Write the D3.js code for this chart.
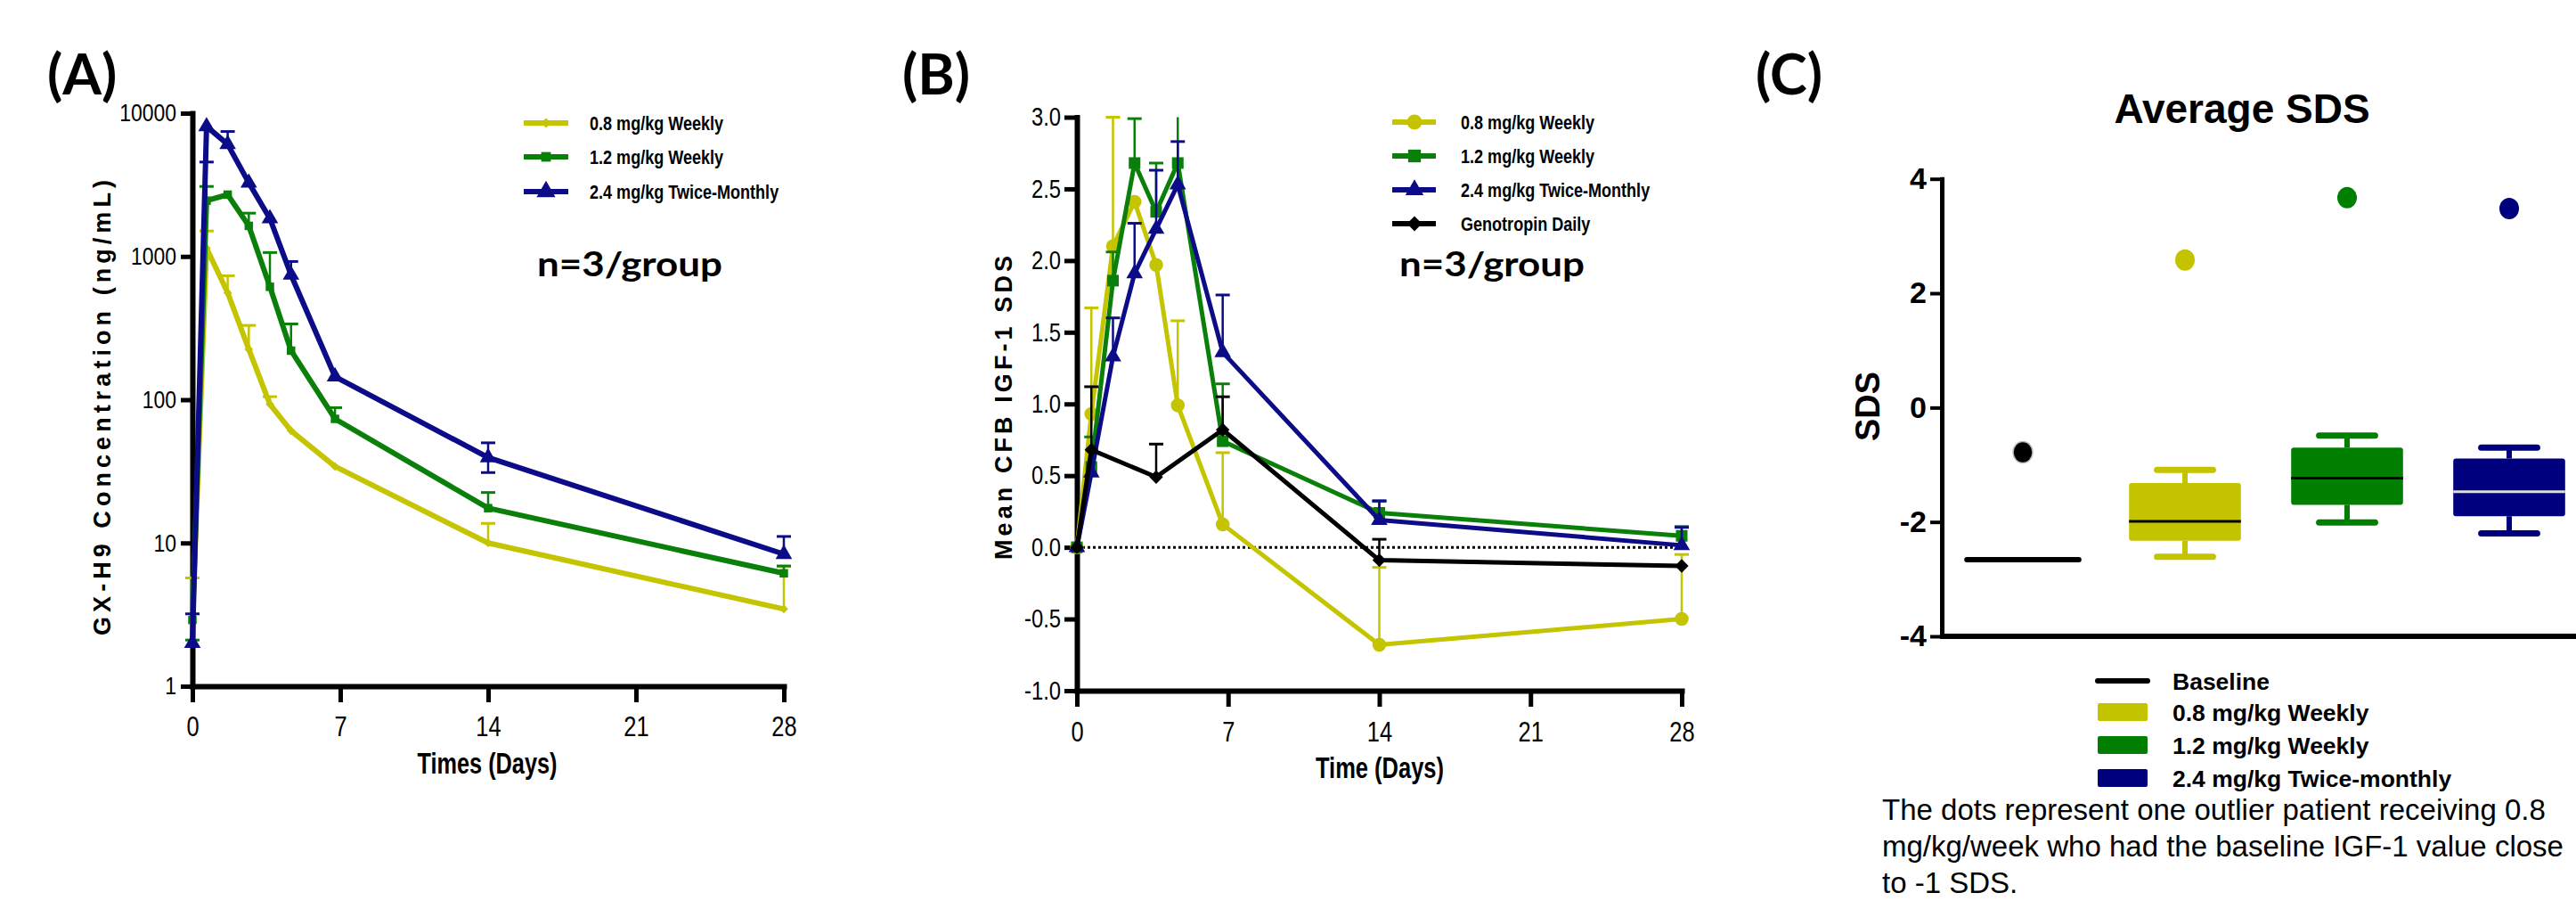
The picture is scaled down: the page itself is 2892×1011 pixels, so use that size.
<!DOCTYPE html>
<html><head><meta charset="utf-8">
<script src="https://cdn.jsdelivr.net/npm/d3@7"></script>
<style>body{margin:0;background:#fff} svg{display:block}</style>
</head><body>
<svg id="c" width="2892" height="1011"></svg>
<script>
// ---------------- DATA ----------------
const timeTicks = [0, 7, 14, 21, 28];
const pkTicks = [1, 10, 100, 1000, 10000];
const sdsTicksB = [-1.0, -0.5, 0.0, 0.5, 1.0, 1.5, 2.0, 2.5, 3.0];
const sdsTicksC = [-4, -2, 0, 2, 4];

const seriesNames = ["0.8 mg/kg Weekly", "1.2 mg/kg Weekly", "2.4 mg/kg Twice-Monthly"];
const genoName = "Genotropin Daily";

// Panel A: GX-H9 concentration (ng/mL), mean and error-bar end
const pkDays = [0, 0.67, 1.67, 2.67, 3.67, 4.67, 6.75, 14, 28];
const pk08 = [2.8, 1142, 558, 225, 93, 60.7, 34.2, 10.0, 3.46];
const pk08Err = [5.7, 1506, 733, 330, 105, null, null, 13.7, 6.9];
const pk12 = [2.9, 2450, 2700, 1635, 614, 220, 73.5, 17.5, 6.14];
const pk12Err = [2.1, 3080, null, 2005, 1065, 338, 88, 22.5, 6.9];
const pk24 = [2.0, 8080, 6070, 3265, 1840, 743, 145, 39.5, 8.36];
const pk24Err = [3.2, 4560, 7450, null, null, 922, null, 50, 11.1];
const pk24ErrLow = [null, null, null, null, null, null, null, 31, null];

// Panel B: mean change from baseline IGF-1 SDS
const igfDays = [0, 0.67, 1.67, 2.67, 3.67, 4.67, 6.75, 14, 28];
const igf08 = [0, 0.93, 2.10, 2.41, 1.97, 0.99, 0.16, -0.68, -0.50];
const igf08Err = [null, 1.67, 3.0, null, null, 1.58, 0.66, -0.14, -0.05];
const igf12 = [0, 0.56, 1.86, 2.68, 2.34, 2.68, 0.74, 0.24, 0.08];
const igf12Err = [null, 0.77, 2.06, 2.99, 2.68, 3.2, 1.14, 0.32, 0.145];
const igf24 = [0, 0.52, 1.33, 1.91, 2.22, 2.53, 1.36, 0.19, 0.014];
const igf24Err = [null, null, 1.60, 2.26, 2.63, 2.83, 1.76, 0.325, 0.139];
const genoDays = [0, 0.67, 3.67, 6.75, 14, 28];
const geno = [0, 0.68, 0.49, 0.82, -0.09, -0.13];
const genoErr = [null, 1.12, 0.72, 1.05, 0.056, null];

// Panel C: Average SDS box plots
const boxCats = ["Baseline", "0.8 mg/kg Weekly", "1.2 mg/kg Weekly", "2.4 mg/kg Twice-monthly"];
const boxWhiskLow = [-2.66, -2.61, -2.01, -2.20];
const boxQ1 = [-2.66, -2.33, -1.70, -1.90];
const boxMedian = [-2.66, -1.99, -1.235, -1.47];
const boxQ3 = [-2.66, -1.32, -0.70, -0.89];
const boxWhiskHigh = [-2.66, -1.09, -0.49, -0.70];
const boxOutlier = [-0.78, 2.58, 3.67, 3.48];

const captionLines = [
  "The dots represent one outlier patient receiving 0.8",
  "mg/kg/week who had the baseline IGF-1 value close",
  "to -1 SDS."
];

// ---------------- STYLE ----------------
const YEL = "#c4c400", GRN = "#0a800a", BLU = "#0c0c88", BLK = "#000000";
const NARROW = "'Liberation Sans Narrow','Arial Narrow','Liberation Sans',sans-serif";
const SANS = "'Liberation Sans',Arial,sans-serif";
const CAL = "Lato,'Liberation Sans',sans-serif";

const svg = d3.select("#c");
svg.append("rect").attr("width", 2892).attr("height", 1011).attr("fill", "#fff");

// detect whether a real narrow face exists; otherwise compress glyphs
const probeN = svg.append("text").attr("font-family", NARROW).attr("font-size", 100).text("0123456789");
const probeS = svg.append("text").attr("font-family", SANS).attr("font-size", 100).text("0123456789");
const narrowFactor = (probeN.node().getComputedTextLength() / probeS.node().getComputedTextLength() > 0.92) ? 0.82 : 1;
probeN.remove(); probeS.remove();
function narrowify(sel) {
  if (narrowFactor === 1) return;
  sel.each(function () {
    const L = this.getComputedTextLength();
    d3.select(this).attr("textLength", L * narrowFactor).attr("lengthAdjust", "spacingAndGlyphs");
  });
}

function styleAxis(g, domainW, tickW, family, size, weight) {
  g.attr("font-size", null).attr("font-family", null);
  g.select(".domain").attr("stroke", "#000").attr("stroke-width", domainW).attr("stroke-linecap", "square");
  g.selectAll(".tick line").attr("stroke", "#000").attr("stroke-width", tickW);
  g.selectAll(".tick text").attr("fill", "#000").attr("font-family", family)
    .attr("font-size", size).attr("font-weight", weight);
}
function sym(type, size) { return d3.symbol().type(type).size(size)(); }

function drawSeries(g, x, y, days, vals, errs, color, opt) {
  const capW = opt.capW, ymax = opt.ymax;
  days.forEach((d, i) => {
    const e = errs ? errs[i] : null;
    if (e == null) return;
    let ee = e, clipped = false;
    if (ymax != null && e > ymax) { ee = ymax; clipped = true; }
    g.append("line").attr("x1", x(d)).attr("x2", x(d)).attr("y1", y(vals[i])).attr("y2", y(ee))
      .attr("stroke", color).attr("stroke-width", opt.errW);
    if (!clipped) g.append("line").attr("x1", x(d) - capW / 2).attr("x2", x(d) + capW / 2)
      .attr("y1", y(ee)).attr("y2", y(ee)).attr("stroke", color).attr("stroke-width", opt.capSW);
  });
  if (opt.errs2) days.forEach((d, i) => {
    const e = opt.errs2[i]; if (e == null) return;
    g.append("line").attr("x1", x(d)).attr("x2", x(d)).attr("y1", y(vals[i])).attr("y2", y(e))
      .attr("stroke", color).attr("stroke-width", opt.errW);
    g.append("line").attr("x1", x(d) - capW / 2).attr("x2", x(d) + capW / 2)
      .attr("y1", y(e)).attr("y2", y(e)).attr("stroke", color).attr("stroke-width", opt.capSW);
  });
  const line = d3.line().x((d, i) => x(days[i])).y((d) => y(d));
  g.append("path").attr("d", line(vals)).attr("fill", "none").attr("stroke", color)
    .attr("stroke-width", opt.lineW).attr("stroke-linejoin", "round");
  days.forEach((d, i) => {
    g.append("path").attr("d", sym(opt.symbol, opt.symSize))
      .attr("transform", `translate(${x(d)},${y(vals[i])})`).attr("fill", color);
  });
}

// ---------------- PANEL A ----------------
const xA = d3.scaleLinear().domain([0, 28]).range([216, 880]);
const yA = d3.scaleLog().domain([1, 10000]).range([770, 127]);
const gA = svg.append("g");

const axAy = gA.append("g").attr("transform", `translate(${xA(0)},0)`)
  .call(d3.axisLeft(yA).tickValues(pkTicks).tickFormat(d => String(d)).tickSize(13).tickSizeOuter(0).tickPadding(5));
styleAxis(axAy, 6, 5, NARROW, 28, "normal");
narrowify(axAy.selectAll(".tick text"));
const axAx = gA.append("g").attr("transform", `translate(0,${yA(1)})`)
  .call(d3.axisBottom(xA).tickValues(timeTicks).tickSize(18).tickSizeOuter(0).tickPadding(16));
styleAxis(axAx, 6, 5, NARROW, 31, "normal");
narrowify(axAx.selectAll(".tick text"));

const symA = [[d3.symbolDiamond2, 60], [d3.symbolSquare, 90], [d3.symbolTriangle, 150]];
const optA = { capW: 16, errW: 2.5, capSW: 3, lineW: 6 };
drawSeries(gA, xA, yA, pkDays, pk08, pk08Err, YEL, Object.assign({}, optA, { symbol: symA[0][0], symSize: symA[0][1] }));
drawSeries(gA, xA, yA, pkDays, pk12, pk12Err, GRN, Object.assign({}, optA, { symbol: symA[1][0], symSize: symA[1][1] }));
drawSeries(gA, xA, yA, pkDays, pk24, pk24Err, BLU, Object.assign({}, optA, { symbol: symA[2][0], symSize: symA[2][1], errs2: pk24ErrLow }));

gA.append("text").attr("transform", "translate(124,457.5) rotate(-90)").attr("text-anchor", "middle")
  .attr("font-family", SANS).attr("font-weight", "bold").attr("font-size", 27)
  .attr("textLength", 511).attr("lengthAdjust", "spacing").text("GX-H9 Concentration (ng/mL)");
gA.append("text").attr("x", 547).attr("y", 868).attr("text-anchor", "middle")
  .attr("font-family", NARROW).attr("font-weight", "bold").attr("font-size", 34)
  .attr("textLength", 157).attr("lengthAdjust", "spacingAndGlyphs").text("Times (Days)");

const legAy = [138, 176, 215];
const legAcol = [YEL, GRN, BLU];
seriesNames.forEach((n, i) => {
  gA.append("line").attr("x1", 588).attr("x2", 638).attr("y1", legAy[i]).attr("y2", legAy[i])
    .attr("stroke", legAcol[i]).attr("stroke-width", 6);
  gA.append("path").attr("d", sym(symA[i][0], symA[i][1] * 1.3)).attr("transform", `translate(613,${legAy[i]})`).attr("fill", legAcol[i]);
  const t = gA.append("text").attr("x", 662).attr("y", legAy[i]).attr("dy", "0.36em")
    .attr("font-family", NARROW).attr("font-weight", "bold").attr("font-size", 22).text(n);
  narrowify(t);
});
gA.append("text").attr("x", 603).attr("y", 310).attr("font-family", CAL).attr("font-weight", "bold")
  .attr("font-size", 38).attr("textLength", 208).attr("lengthAdjust", "spacingAndGlyphs").text("n=3/group");
svg.append("text").attr("x", 53).attr("y", 106).attr("font-family", CAL).attr("font-weight", "bold")
  .attr("font-size", 63).text("(A)");

// ---------------- PANEL B ----------------
const xB = d3.scaleLinear().domain([0, 28]).range([1209, 1888]);
const yB = d3.scaleLinear().domain([-1, 3]).range([775, 131.5]);
const gB = svg.append("g");
const axBy = gB.append("g").attr("transform", `translate(${xB(0)},0)`)
  .call(d3.axisLeft(yB).tickValues(sdsTicksB).tickFormat(d => d.toFixed(1)).tickSize(14).tickSizeOuter(0).tickPadding(4));
styleAxis(axBy, 6, 5, NARROW, 29, "normal");
narrowify(axBy.selectAll(".tick text"));
const axBx = gB.append("g").attr("transform", `translate(0,${yB(-1)})`)
  .call(d3.axisBottom(xB).tickValues(timeTicks).tickSize(18).tickSizeOuter(0).tickPadding(17));
styleAxis(axBx, 6, 5, NARROW, 31, "normal");
narrowify(axBx.selectAll(".tick text"));

gB.append("line").attr("x1", xB(0)).attr("x2", xB(28)).attr("y1", yB(0)).attr("y2", yB(0))
  .attr("stroke", "#000").attr("stroke-width", 3).attr("stroke-dasharray", "3,3");

const symB = [[d3.symbolCircle, 190], [d3.symbolSquare, 170], [d3.symbolTriangle, 150], [d3.symbolDiamond2, 150]];
const optB = { capW: 16, errW: 2.5, capSW: 3, lineW: 5, ymax: 3.0 };
drawSeries(gB, xB, yB, igfDays, igf08, igf08Err, YEL, Object.assign({}, optB, { symbol: symB[0][0], symSize: symB[0][1] }));
drawSeries(gB, xB, yB, igfDays, igf12, igf12Err, GRN, Object.assign({}, optB, { symbol: symB[1][0], symSize: symB[1][1] }));
drawSeries(gB, xB, yB, igfDays, igf24, igf24Err, BLU, Object.assign({}, optB, { symbol: symB[2][0], symSize: symB[2][1] }));
drawSeries(gB, xB, yB, genoDays, geno, genoErr, BLK, Object.assign({}, optB, { symbol: symB[3][0], symSize: symB[3][1] }));

gB.append("text").attr("transform", "translate(1136,457.5) rotate(-90)").attr("text-anchor", "middle")
  .attr("font-family", SANS).attr("font-weight", "bold").attr("font-size", 27)
  .attr("textLength", 341).attr("lengthAdjust", "spacing").text("Mean CFB IGF-1 SDS");
gB.append("text").attr("x", 1549).attr("y", 873).attr("text-anchor", "middle")
  .attr("font-family", NARROW).attr("font-weight", "bold").attr("font-size", 34)
  .attr("textLength", 144).attr("lengthAdjust", "spacingAndGlyphs").text("Time (Days)");

const legBy = [137, 175, 213, 251];
const legBcol = [YEL, GRN, BLU, BLK];
seriesNames.concat([genoName]).forEach((n, i) => {
  gB.append("line").attr("x1", 1563).attr("x2", 1612).attr("y1", legBy[i]).attr("y2", legBy[i])
    .attr("stroke", legBcol[i]).attr("stroke-width", 6);
  gB.append("path").attr("d", sym(symB[i][0], symB[i][1] * 1.2)).attr("transform", `translate(1588,${legBy[i]})`).attr("fill", legBcol[i]);
  const t = gB.append("text").attr("x", 1640).attr("y", legBy[i]).attr("dy", "0.36em")
    .attr("font-family", NARROW).attr("font-weight", "bold").attr("font-size", 22).text(n);
  narrowify(t);
});
gB.append("text").attr("x", 1571).attr("y", 310).attr("font-family", CAL).attr("font-weight", "bold")
  .attr("font-size", 38).attr("textLength", 208).attr("lengthAdjust", "spacingAndGlyphs").text("n=3/group");
svg.append("text").attr("x", 1013).attr("y", 106).attr("font-family", CAL).attr("font-weight", "bold")
  .attr("font-size", 63).text("(B)");

// ---------------- PANEL C ----------------
const yC = d3.scaleLinear().domain([-4, 4]).range([714, 200.7]);
const xC = d3.scaleBand().domain(boxCats).range([2180, 2908]).paddingInner(0.31).paddingOuter(0.155);
const gC = svg.append("g");
const boxCol = [BLK, "#c3c300", "#007f00", "#00007f"];
const medCol = ["#000", "#000", "#000", "#dcdcdc"];

const bw = xC.bandwidth();
boxCats.forEach((c, i) => {
  const x0 = xC(c), cx = x0 + bw / 2;
  const col = boxCol[i];
  if (boxQ3[i] !== boxQ1[i]) {
    [[boxQ3[i], boxWhiskHigh[i]], [boxQ1[i], boxWhiskLow[i]]].forEach(([a, b]) => {
      gC.append("line").attr("x1", cx).attr("x2", cx).attr("y1", yC(a)).attr("y2", yC(b))
        .attr("stroke", col).attr("stroke-width", 6);
      gC.append("line").attr("x1", cx - bw / 4).attr("x2", cx + bw / 4).attr("y1", yC(b)).attr("y2", yC(b))
        .attr("stroke", col).attr("stroke-width", 7).attr("stroke-linecap", "round");
    });
    gC.append("rect").attr("x", x0).attr("y", yC(boxQ3[i])).attr("width", bw)
      .attr("height", yC(boxQ1[i]) - yC(boxQ3[i])).attr("rx", 3).attr("fill", col);
    gC.append("line").attr("x1", x0).attr("x2", x0 + bw).attr("y1", yC(boxMedian[i])).attr("y2", yC(boxMedian[i]))
      .attr("stroke", medCol[i]).attr("stroke-width", 3);
  } else {
    gC.append("line").attr("x1", x0).attr("x2", x0 + bw).attr("y1", yC(boxMedian[i])).attr("y2", yC(boxMedian[i]))
      .attr("stroke", col).attr("stroke-width", 6).attr("stroke-linecap", "round");
  }
  gC.append("ellipse").attr("cx", cx).attr("cy", yC(boxOutlier[i])).attr("rx", 11).attr("ry", 12)
    .attr("fill", col).attr("stroke", i === 0 ? "#bbb" : "none").attr("stroke-width", 1.5);
});

const axCy = gC.append("g").attr("transform", "translate(2180,0)")
  .call(d3.axisLeft(yC).tickValues(sdsTicksC).tickFormat(d => String(d)).tickSize(13).tickSizeOuter(0).tickPadding(4));
styleAxis(axCy, 5, 4, SANS, 34, "bold");
gC.append("line").attr("x1", 2180).attr("x2", 2892).attr("y1", yC(-4)).attr("y2", yC(-4))
  .attr("stroke", "#000").attr("stroke-width", 6);

gC.append("text").attr("transform", "translate(2110,456) rotate(-90)").attr("text-anchor", "middle")
  .attr("font-family", SANS).attr("font-weight", "bold").attr("font-size", 38).text("SDS");
gC.append("text").attr("x", 2517).attr("y", 138).attr("text-anchor", "middle")
  .attr("font-family", SANS).attr("font-weight", "bold").attr("font-size", 46).text("Average SDS");

const legCy = [764, 799, 836, 873];
boxCats.forEach((c, i) => {
  if (i === 0) {
    gC.append("line").attr("x1", 2355).attr("x2", 2411).attr("y1", legCy[i]).attr("y2", legCy[i])
      .attr("stroke", "#000").attr("stroke-width", 6).attr("stroke-linecap", "round");
  } else {
    gC.append("rect").attr("x", 2355).attr("y", legCy[i] - 10).attr("width", 56).attr("height", 20)
      .attr("rx", 2).attr("fill", boxCol[i]);
  }
  gC.append("text").attr("x", 2439).attr("y", legCy[i]).attr("dy", "0.36em")
    .attr("font-family", SANS).attr("font-weight", "bold").attr("font-size", 26.5).text(c);
});

captionLines.forEach((t, i) => {
  gC.append("text").attr("x", 2113).attr("y", 920 + i * 41).attr("font-family", SANS)
    .attr("font-size", 33).attr("fill", "#000").text(t);
});
svg.append("text").attr("x", 1971).attr("y", 106).attr("font-family", CAL).attr("font-weight", "bold")
  .attr("font-size", 63).text("(C)");
</script>
</body></html>
